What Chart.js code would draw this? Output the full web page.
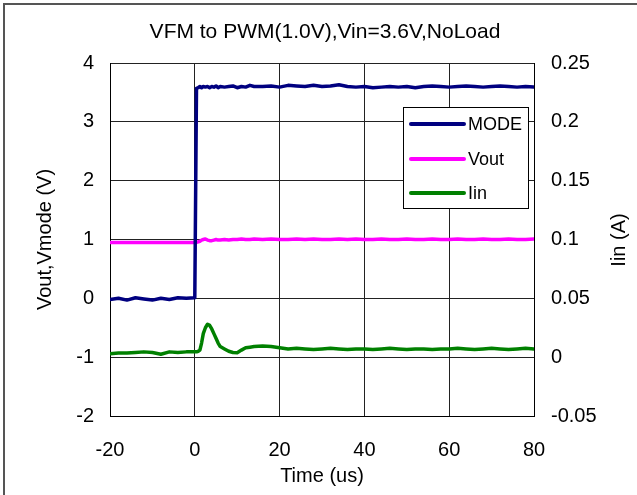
<!DOCTYPE html>
<html>
<head>
<meta charset="utf-8">
<script src="https://cdn.jsdelivr.net/npm/chart.js@4.4.1/dist/chart.umd.min.js"></script>
<style>
  html, body { margin: 0; padding: 0; background: #fff; }
  canvas { display: block; }
</style>
</head>
<body>
<canvas id="chart" width="637" height="495"></canvas>
<script>
// time axis (us)
const timeUs = [
  -20, -18, -16, -14, -12, -10, -8, -6, -4, -2, 0,
  0.4, 0.8, 1.2, 1.6, 2,
  2.5, 3, 3.5, 4, 4.5, 5, 5.5, 6,
  7, 8, 9, 10, 11, 12, 13, 14,
  16, 18, 20, 22, 24, 26, 28, 30, 32, 34, 36, 38, 40, 42, 44, 46, 48,
  50, 52, 54, 56, 58, 60, 62, 64, 66, 68, 70, 72, 74, 76, 78, 80
];
// MODE pin voltage (V), left axis
const modeV = [
  -0.02, 0.0, -0.03, 0.01, -0.01, -0.03, 0.0, -0.02, 0.01, 0.0, 0.01,
  3.57, 3.58, 3.6, 3.58, 3.6,
  3.59, 3.6, 3.58, 3.6, 3.59, 3.61, 3.58, 3.6,
  3.59, 3.6, 3.61, 3.58, 3.6, 3.59, 3.62, 3.6,
  3.6, 3.61, 3.59, 3.62, 3.61, 3.6, 3.62, 3.6, 3.61, 3.63, 3.6, 3.59, 3.6, 3.58, 3.59, 3.6, 3.59,
  3.6, 3.58, 3.6, 3.61, 3.6, 3.59, 3.6, 3.61, 3.6, 3.59, 3.6, 3.61, 3.6, 3.59, 3.6, 3.59
];
// output voltage (V), left axis
const voutV = [
  0.95, 0.95, 0.95, 0.95, 0.95, 0.95, 0.95, 0.95, 0.95, 0.95, 0.95,
  0.95, 0.96, 0.97, 0.99, 1.0,
  1.01, 0.99, 0.98, 0.98, 0.99, 1.0, 0.99, 0.99,
  1.0, 0.99, 1.0, 1.0, 1.01, 1.0, 1.0, 1.01,
  1.0, 1.01, 1.0, 1.0, 1.01, 1.0, 1.01, 1.0, 1.0, 1.01, 1.0, 1.01, 1.0, 1.0, 1.01, 1.0, 1.0,
  1.01, 1.0, 1.0, 1.01, 1.0, 1.0, 1.01, 1.0, 1.0, 1.01, 1.0, 1.0, 1.01, 1.0, 1.0, 1.01
];
// input current (A), right axis
const iinA = [
  0.003, 0.0035, 0.0035, 0.004, 0.0045, 0.004, 0.0025, 0.0045, 0.004, 0.0045, 0.0045,
  0.0045, 0.005, 0.006, 0.012, 0.02,
  0.025, 0.028, 0.027, 0.024, 0.02, 0.016, 0.012, 0.009,
  0.007, 0.005, 0.004, 0.0038, 0.006, 0.008, 0.0085, 0.009,
  0.0095, 0.009, 0.008, 0.007, 0.0075, 0.007, 0.0065, 0.007, 0.0075, 0.007, 0.0065, 0.007, 0.007, 0.0065, 0.007, 0.0075, 0.007,
  0.0065, 0.007, 0.007, 0.0065, 0.007, 0.007, 0.0075, 0.007, 0.0065, 0.007, 0.0075, 0.007, 0.0065, 0.007, 0.0075, 0.007
];

const xTicks = [-20, 0, 20, 40, 60, 80];
const yLeftTicks = [-2, -1, 0, 1, 2, 3, 4];
const yRightTicks = [-0.05, 0, 0.05, 0.1, 0.15, 0.2, 0.25];

const seriesNames = ['MODE', 'Vout', 'Iin'];
const seriesColors = ['#000080', '#ff00ff', '#008000'];

const FONT = '"Liberation Sans", Arial, sans-serif';

function toPoints(values) {
  return values.map((v, i) => ({ x: timeUs[i], y: v }));
}
function fixedTicks(list) {
  return scale => { scale.ticks = list.map(v => ({ value: v })); };
}

// frame, title, right axis title and inset legend
const decorations = {
  id: 'decorations',
  afterDraw(chart) {
    const ctx = chart.ctx;
    ctx.save();
    ctx.strokeStyle = '#555';
    ctx.lineWidth = 2;
    ctx.beginPath();
    ctx.moveTo(4, 495);
    ctx.lineTo(4, 4);
    ctx.lineTo(637, 4);
    ctx.stroke();

    ctx.fillStyle = '#000';
    ctx.font = '21px ' + FONT;
    ctx.textAlign = 'center';
    ctx.textBaseline = 'middle';
    ctx.fillText('VFM to PWM(1.0V),Vin=3.6V,NoLoad', 325, 32);

    ctx.font = '20px ' + FONT;
    ctx.translate(619, 240);
    ctx.rotate(-Math.PI / 2);
    ctx.fillText('Iin (A)', 0, 0);
    ctx.restore();

    // legend box
    ctx.save();
    ctx.fillStyle = '#fff';
    ctx.fillRect(403, 107, 125, 101);
    ctx.strokeStyle = '#000';
    ctx.lineWidth = 1;
    ctx.strokeRect(403.5, 107.5, 125, 101);
    ctx.font = '18px ' + FONT;
    ctx.textAlign = 'left';
    ctx.textBaseline = 'middle';
    const rows = [124, 159, 193];
    seriesNames.forEach((name, i) => {
      ctx.strokeStyle = seriesColors[i];
      ctx.lineWidth = 4;
      ctx.lineCap = 'round';
      ctx.beginPath();
      ctx.moveTo(411, rows[i]);
      ctx.lineTo(464, rows[i]);
      ctx.stroke();
      ctx.fillStyle = '#000';
      ctx.fillText(name, 468, rows[i] + 1);
    });
    ctx.restore();
  }
};

const tickFont = { family: FONT, size: 20 };

new Chart(document.getElementById('chart'), {
  type: 'line',
  data: {
    datasets: [
      { label: seriesNames[0], data: toPoints(modeV), yAxisID: 'y', borderColor: seriesColors[0] },
      { label: seriesNames[1], data: toPoints(voutV), yAxisID: 'y', borderColor: seriesColors[1] },
      { label: seriesNames[2], data: toPoints(iinA), yAxisID: 'y1', borderColor: seriesColors[2] }
    ]
  },
  options: {
    responsive: false,
    animation: false,
    layout: { padding: { top: 63, left: 0, right: 0, bottom: 0 } },
    elements: {
      point: { radius: 0 },
      line: { borderWidth: 3.5, tension: 0, borderJoinStyle: 'round', borderCapStyle: 'round' }
    },
    plugins: {
      legend: { display: false },
      title: { display: false },
      tooltip: { enabled: false }
    },
    scales: {
      x: {
        type: 'linear',
        min: -20,
        max: 80,
        afterBuildTicks: fixedTicks(xTicks),
        afterFit: s => { s.height = 79; },
        ticks: { font: tickFont, color: '#000', padding: 22, maxRotation: 0 },
        grid: { color: '#222', drawTicks: false },
        border: { color: '#000', width: 1 },
        title: { display: true, text: 'Time (us)', color: '#000', font: tickFont, padding: { top: 0, bottom: 7 } }
      },
      y: {
        position: 'left',
        min: -2,
        max: 4,
        afterBuildTicks: fixedTicks(yLeftTicks),
        afterFit: s => { s.width = 110; },
        ticks: { font: tickFont, color: '#000', padding: 16 },
        grid: { color: '#222', drawTicks: false },
        border: { color: '#000', width: 1 },
        title: { display: true, text: 'Vout,Vmode (V)', color: '#000', font: tickFont, padding: { top: 33, bottom: 0 } }
      },
      y1: {
        position: 'right',
        min: -0.05,
        max: 0.25,
        afterBuildTicks: fixedTicks(yRightTicks),
        afterFit: s => { s.width = 103; },
        ticks: {
          font: tickFont, color: '#000', padding: 17,
          callback: v => String(Number(v.toFixed(2)))
        },
        grid: { drawOnChartArea: false, drawTicks: false },
        border: { color: '#000', width: 1 }
      }
    }
  },
  plugins: [decorations]
});
</script>
</body>
</html>
